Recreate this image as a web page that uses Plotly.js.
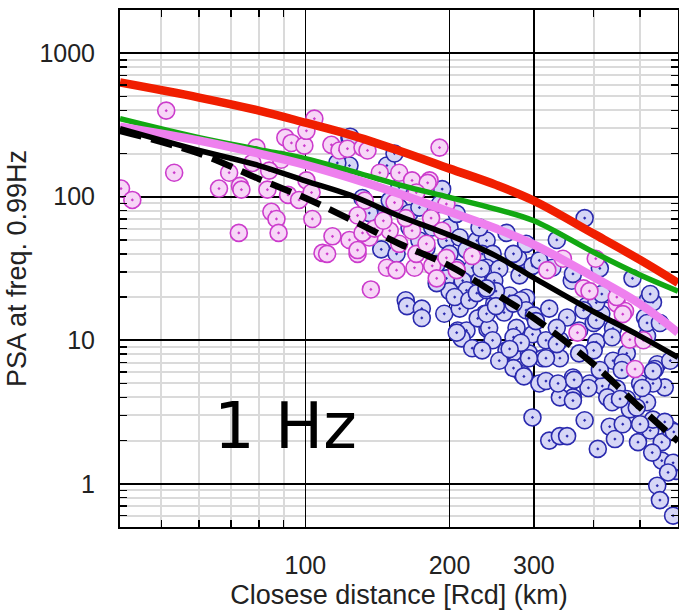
<!DOCTYPE html>
<html>
<head>
<meta charset="utf-8">
<script src="https://cdn.plot.ly/plotly-3.0.1.min.js"></script>
<style>html,body{margin:0;padding:0;background:#fff;}#chart{width:679px;height:610px;}</style>
</head>
<body>
<div id="chart"></div>
<script>
// ---- data ----
const blueDist = [123.6,148,153.5,131.6,193,157,383,482,145,123.6,116.6,124,150,143,165,144,155,165,173,184,200,197,210,228,239,217,234,246,200,188,207,223,239,197,213,231,246,200,217,188,162,
163,175,175,195,210,208,217,212,223,237,240,229,205,220,228,233,246,248,
278,263,254,248,280,298,267,289,239,242,260,282,289,276,300,298,323,318,352,340,272,293,313,340,360,387,415,439,405,469,519,512,405,427,335,373,543,578,517,
381,400,437,532,517,550,537,563,439,460,400,373,362,392,417,447,500,532,469,517,427,362,340,308,284,263,246,272,293,318,335,239,250,272,303,318,272,254,234,
298,323,340,352,408,383,362,390,437,432,443,460,476,495,525,555,555,530,543,550,586,595,532,505,458,412,337,364,
207,282,286,586,578,532,492,454,
416,405,136,157,173,191,207,231,289,272,308,328,362,335,525,179,239,412,572,588,563,500,267,250];
const bluePSA = [257,165,200,98,113,84,71,27,71,165,172,262,94,70,77,43,40,61,49.5,61,61,49.5,52,49.5,49.5,42.6,40,40,40,34,32,32,32,27,26,26,29,22,22.3,25,19,
17.3,16.6,14.3,15.3,16.6,11.7,11.7,10.3,8.8,15.3,12,14.2,20,19,21.3,31.5,25,18,
37.5,56,31.5,26,28.3,33,20.5,19.8,22.3,12.2,15.6,19,16.2,12.2,14.9,11,16.6,10,14.4,10,8.2,8.1,7.5,7.5,26,17.4,15.3,12.1,9.7,8.1,19,14.4,18.3,21,12.2,11.7,6.8,7.2,10.7,
16.2,13.2,10.5,18.4,13.2,13.2,6.3,4.7,7.2,7,8.5,8.1,5.5,5,4.8,4.6,5,5,3.9,3.7,4,4,4,5,5.8,8.5,10,10.5,7.5,7.5,9.4,15.3,22,18,13.6,5.2,6.4,7.2,8.5,
2.9,2.0,2.15,2.15,1.75,2.77,3.8,4.65,3.7,2.5,2.05,2.6,3.3,1.95,2.35,1.95,1.45,1.65,0.97,0.77,0.6,1.23,6.1,4.65,6.2,6.2,5,5.3,
11.3,9.6,5.6,1.4,2.4,2.8,3.4,3.9,
21,13.8,77,116,84,89,76,61,47,40,36,32,29,50,21,44,23,31.7,1.2,2.3,2.7,2.6,8.7,17.3];

const magDist = [51.2,53.2,41.2,43.5,66,73,73.5,69.3,72.6,83.3,84.9,87,87.9,90.8,93.5,89,92,99.5,100.5,104.4,100.5,103.4,108.6,111,113.9,113.3,97,103,
117.8,122.4,131.6,134.8,190.6,143,157,181.7,133,123.6,128.5,136,148,155,169,184,188,137,170.5,157,131.6,150,139.5,167,183,162,145.5,167,153.5,128.5,197,193,179,197,223,207,
79,77.5,84,320,345,404,370,476,508,381,392,447,465,488,447,460,180,170.5,128.5];
const magPSA = [398,147,114,95,114,119,112,147,56,112,78.5,70,56,258,237,181,103,227,288,350,130,70,40.6,40,53,230,95,107,
210,216,220,210,220,147,147,130,94,50,40,52,32,30.8,32,33,27,22.6,40,47,56,58,60,58,71,71,68,130,91,74,89,58,47,37.5,38.6,30.8,
220,172,152,30.8,37,37,11.3,10.1,10,23,22,18,16,6.3,20,15.2,125,107,42.5];

const curveDist = [41,60,80,100,123.6,157,200,250,300,400,500,600];
const redPSA    = [625,491,398,328,271,209,157,121,93.8,55.2,36.3,25.1];
const greenPSA  = [350,258,213,184,152,121,99,82,68,41,28.5,22];
const violetPSA = [308,246,200,167,136,105,78.5,60,46.4,27.6,17.9,11.3];
const blackPSA  = [298,210,165,129,103,73.5,54,38.7,27.2,15.8,10.7,7.6];
const dashPSA   = [288,200,133,98,70,47,33,21,14.3,6.8,3.4,1.98];

const xTickVals = [100,200,300];
const xTickText = ['100','200','300'];
const xMinorVals = [50,60,70,80,90,400,500];
const yTickVals = [1,10,100,1000];
const yTickText = ['1','10','100','1000'];
const yMinorVals = [0.6,0.7,0.8,0.9,2,3,4,5,6,7,8,9,20,30,40,50,60,70,80,90,200,300,400,500,600,700,800,900];

// ---- traces ----
const traces = [
  {x: blueDist, y: bluePSA, mode:'markers', type:'scatter', hoverinfo:'skip',
   marker:{symbol:'circle-dot', size:17, color:'#d6d6f6', line:{color:'#2a2aae', width:1.6}}},
  {x: magDist, y: magPSA, mode:'markers', type:'scatter', hoverinfo:'skip',
   marker:{symbol:'circle-dot', size:17, color:'#f7d6f7', line:{color:'#cc3ccc', width:1.6}}},
  {x: curveDist, y: greenPSA, mode:'lines', line:{color:'#12a812', width:5.5, shape:'spline'}},
  {x: curveDist, y: violetPSA, mode:'lines', line:{color:'#ee80ee', width:8.5, shape:'spline'}},
  {x: curveDist, y: blackPSA, mode:'lines', line:{color:'#000', width:5.5, shape:'spline'}},
  {x: curveDist, y: dashPSA, mode:'lines', line:{color:'#000', width:6.5, shape:'spline', dash:'22px,10px'}},
  {x: curveDist, y: redPSA, mode:'lines', line:{color:'#f01e00', width:8.5, shape:'spline'}}
];

const tickFont = {family:'"Liberation Sans", Arial, sans-serif', size:25, color:'#222'};
const titleFont = {family:'"Liberation Sans", Arial, sans-serif', size:27, color:'#222'};

const layout = {
  width:679, height:610,
  margin:{l:120, r:1, t:10, b:83},
  paper_bgcolor:'#fff', plot_bgcolor:'#fff',
  showlegend:false,
  xaxis:{
    type:'log', range:[Math.log10(41), Math.log10(600)],
    tickmode:'array', tickvals:xTickVals, ticktext:xTickText,
    ticks:'inside', ticklen:6, tickwidth:1.5, tickcolor:'#000',
    showgrid:true, gridcolor:'#000', gridwidth:1.6,
    showline:true, linecolor:'#000', linewidth:2, mirror:'allticks',
    zeroline:false, tickfont:tickFont, ticklabelstandoff:15,
    minor:{tickmode:'array', tickvals:xMinorVals, ticks:'inside', ticklen:7, tickwidth:1.5, tickcolor:'#000',
           showgrid:true, gridcolor:'#dadada', gridwidth:2},
    title:{text:'Closese distance [Rcd] (km)', font:titleFont, standoff:8}
  },
  yaxis:{
    type:'log', range:[Math.log10(0.5), Math.log10(2000)],
    tickmode:'array', tickvals:yTickVals, ticktext:yTickText,
    ticks:'inside', ticklen:6, tickwidth:1.5, tickcolor:'#000',
    showgrid:true, gridcolor:'#000', gridwidth:1.6,
    showline:true, linecolor:'#000', linewidth:2, mirror:'allticks',
    zeroline:false, tickfont:tickFont, ticklabelstandoff:18,
    minor:{tickmode:'array', tickvals:yMinorVals, ticks:'inside', ticklen:7, tickwidth:1.5, tickcolor:'#000',
           showgrid:true, gridcolor:'#dadada', gridwidth:2},
    title:{text:'PSA at freq. 0.99Hz', font:titleFont, standoff:5}
  },
  shapes:[{type:'rect', xref:'paper', yref:'paper', x0:0.129, x1:0.401, y0:0.114, y1:0.290,
           fillcolor:'#fff', line:{width:0}, layer:'between'}],
  annotations:[{text:'1 Hz', xref:'paper', yref:'paper', x:0.296, y:0.195, xanchor:'center', yanchor:'middle',
                showarrow:false, font:{family:'"DejaVu Sans", sans-serif', size:64, color:'#000'}}]
};

Plotly.newPlot('chart', traces, layout, {staticPlot:true, displayModeBar:false});
</script>
</body>
</html>
